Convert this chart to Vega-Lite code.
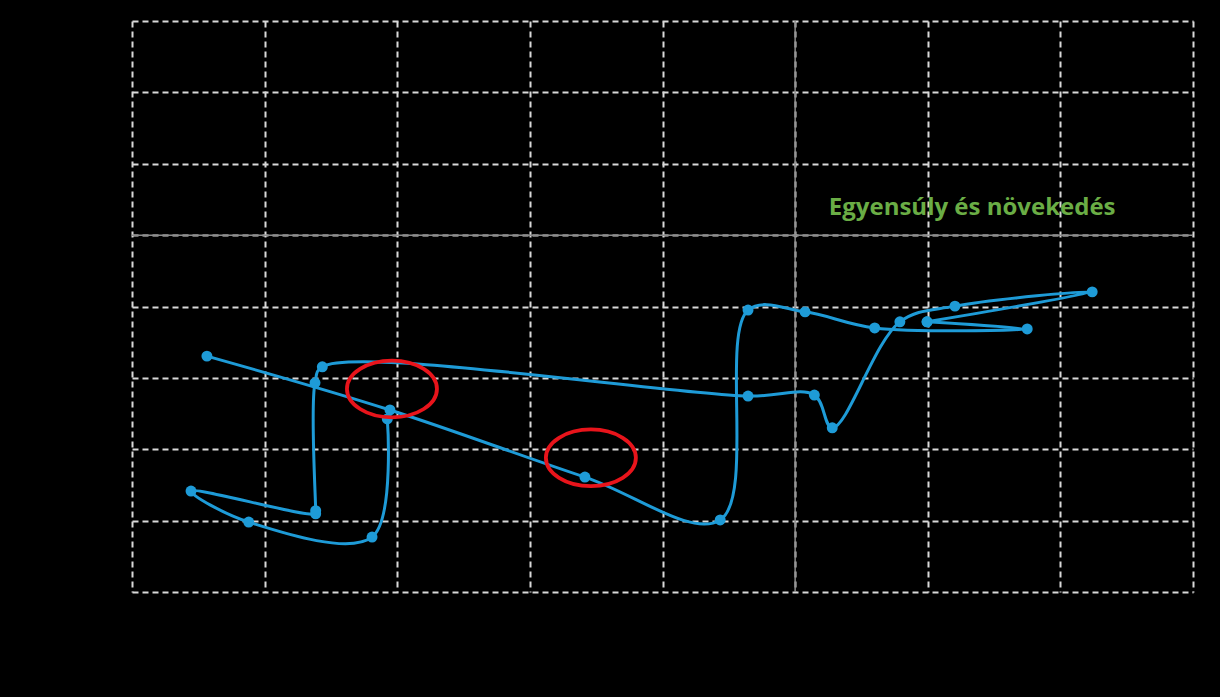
{
  "$schema": "https://vega.github.io/schema/vega-lite/v6.json",
  "autosize": {"type": "none"},
  "padding": {"left": 132, "top": 21, "right": 27, "bottom": 105},
  "width": 1061,
  "height": 571,
  "background": "black",
  "config": {
    "view": {"stroke": null},
    "axis": {
      "grid": true,
      "gridColor": "#d9d9d9",
      "gridDash": [6, 4],
      "gridWidth": 2,
      "domain": false,
      "ticks": false,
      "labelColor": "black",
      "titleColor": "black",
      "labelFont": "Liberation Sans",
      "labelFontSize": 14
    }
  },
  "datasets": {
    "path": [
      {"s": "a", "i": 1, "x": -6.15, "y": -5.15},
      {"s": "a", "i": 2, "x": -6.38, "y": -8.46},
      {"s": "a", "i": 3, "x": -8.24, "y": -8.04},
      {"s": "a", "i": 4, "x": -9.11, "y": -7.17},
      {"s": "a", "i": 5, "x": -7.23, "y": -7.81},
      {"s": "a", "i": 6, "x": -7.23, "y": -7.72},
      {"s": "a", "i": 7, "x": -7.24, "y": -4.14},
      {"s": "a", "i": 8, "x": -7.13, "y": -3.69},
      {"s": "a", "i": 9, "x": -0.71, "y": -4.51},
      {"s": "a", "i": 10, "x": 0.29, "y": -4.48},
      {"s": "a", "i": 11, "x": 0.56, "y": -5.40},
      {"s": "a", "i": 12, "x": 1.58, "y": -2.43},
      {"s": "a", "i": 13, "x": 2.41, "y": -1.99},
      {"s": "a", "i": 14, "x": 4.48, "y": -1.59},
      {"s": "a", "i": 15, "x": 1.99, "y": -2.43},
      {"s": "b", "i": 1, "x": -8.87, "y": -3.39},
      {"s": "b", "i": 2, "x": -6.11, "y": -4.90},
      {"s": "b", "i": 3, "x": -3.17, "y": -6.78},
      {"s": "b", "i": 4, "x": -1.13, "y": -7.98},
      {"s": "b", "i": 5, "x": -0.71, "y": -2.10},
      {"s": "b", "i": 6, "x": 0.15, "y": -2.15},
      {"s": "b", "i": 7, "x": 1.20, "y": -2.60},
      {"s": "b", "i": 8, "x": 3.50, "y": -2.63},
      {"s": "b", "i": 9, "x": 1.99, "y": -2.43}
    ],
    "rings": [
      {"x": -6.08, "y": -4.31},
      {"x": -3.08, "y": -6.24}
    ],
    "note": [
      {"x": 2.67, "y": 0.76, "t": "Egyensúly és növekedés"}
    ]
  },
  "layer": [
    {
      "data": {"values": [{"v": 0}]},
      "mark": {"type": "rule", "color": "#8c8c8c", "strokeWidth": 1.5},
      "encoding": {"x": {"field": "v", "type": "quantitative", "scale": {"domain": [-10, 6], "nice": false, "zero": false}, "axis": {"values": [-10, -8, -6, -4, -2, 0, 2, 4, 6], "title": null}}}
    },
    {
      "data": {"values": [{"v": 0}]},
      "mark": {"type": "rule", "color": "#8c8c8c", "strokeWidth": 1.5},
      "encoding": {"y": {"field": "v", "type": "quantitative", "scale": {"domain": [-10, 6], "nice": false, "zero": false}, "axis": {"values": [-10, -8, -6, -4, -2, 0, 2, 4, 6], "title": null}}}
    },
    {
      "data": {"name": "path"},
      "mark": {"type": "line", "interpolate": "catmull-rom", "color": "#1E9BD7", "strokeWidth": 3},
      "encoding": {
        "x": {"field": "x", "type": "quantitative"},
        "y": {"field": "y", "type": "quantitative"},
        "detail": {"field": "s"},
        "order": {"field": "i", "type": "quantitative"}
      }
    },
    {
      "data": {"name": "path"},
      "mark": {"type": "point", "filled": true, "color": "#1E9BD7", "opacity": 1, "size": 120},
      "encoding": {
        "x": {"field": "x", "type": "quantitative"},
        "y": {"field": "y", "type": "quantitative"}
      }
    },
    {
      "data": {"name": "rings"},
      "mark": {"type": "point", "filled": false, "color": "#E8141B", "strokeWidth": 3.8, "opacity": 1, "size": 8100, "shape": "M -1 0 A 1 0.63 0 1 0 1 0 A 1 0.63 0 1 0 -1 0 Z"},
      "encoding": {
        "x": {"field": "x", "type": "quantitative"},
        "y": {"field": "y", "type": "quantitative"}
      }
    },
    {
      "data": {"name": "note"},
      "mark": {"type": "text", "font": "Open Sans", "fontWeight": "bold", "fontSize": 24, "color": "#6AAD45", "align": "center", "baseline": "middle"},
      "encoding": {
        "x": {"field": "x", "type": "quantitative"},
        "y": {"field": "y", "type": "quantitative"},
        "text": {"field": "t"}
      }
    }
  ]
}
